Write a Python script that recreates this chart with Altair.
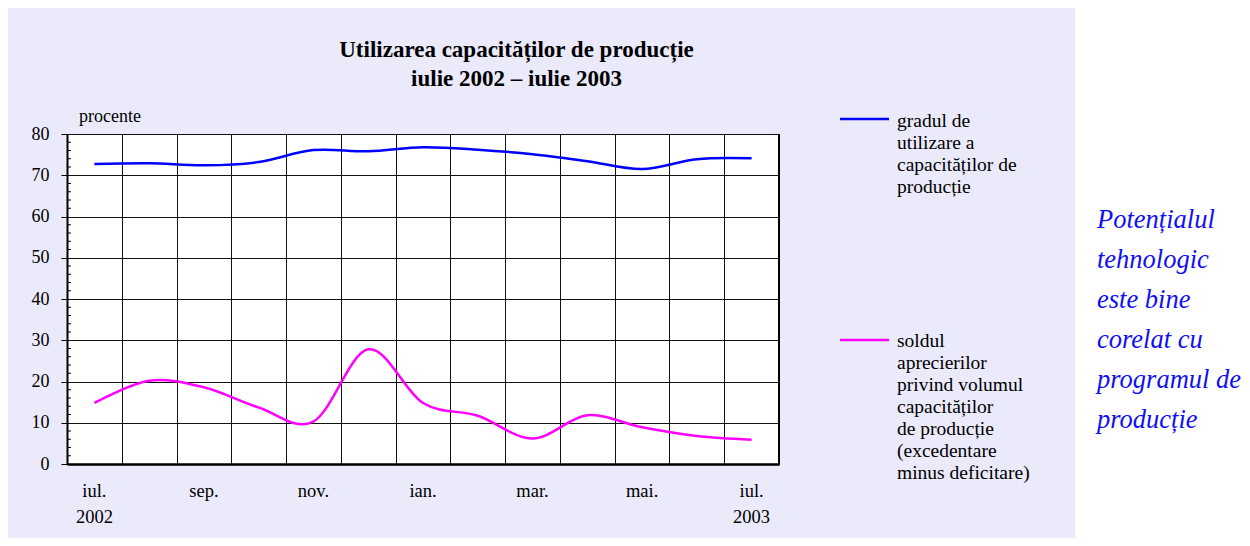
import altair as alt
import pandas as pd

# ---------------- data ----------------
months = ["iul.", "aug.", "sep.", "oct.", "nov.", "dec.", "ian.", "feb.", "mar.", "apr.", "mai.", "iun.", "iul."]
tick_labels = ["iul.\n2002", "", "sep.", "", "nov.", "", "ian.", "", "mar.", "", "mai.", "", "iul.\n2003"]
grad_utilizare = [72.7, 72.9, 72.4, 73.2, 76.1, 75.8, 76.8, 76.2, 75.1, 73.4, 71.5, 73.9, 74.1]
sold_aprecieri = [14.8, 20.2, 18.6, 13.7, 10.3, 27.8, 14.8, 11.7, 6.2, 11.8, 8.9, 6.8, 5.9]
y_major = list(range(0, 90, 10))
y_minor = [v for v in range(2, 80, 2) if v % 10]
series_names = ["gradul de utilizare", "soldul aprecierilor"]
series_colors = ["#0000FF", "#FF00FF"]
title_lines = ["Utilizarea capacităților de producție", "iulie 2002 – iulie 2003"]
y_unit = "procente"
legend_blue = ["gradul de", "utilizare a", "capacităților de", "producție"]
legend_pink = ["soldul", "aprecierilor", "privind volumul", "capacităților", "de producție",
               "(excedentare", "minus deficitare)"]
side_note = ["Potențialul", "tehnologic", "este bine", "corelat cu", "programul de", "producție"]

W, H = 712, 330
FONT = "Liberation Serif"

positions = [i + 0.5 for i in range(len(months))]
df = pd.DataFrame({
    "pos": positions * 2,
    "value": grad_utilizare + sold_aprecieri,
    "series": [series_names[0]] * len(months) + [series_names[1]] * len(months),
})
df_labels = pd.DataFrame({"pos": positions, "label": tick_labels})
df_minor = pd.DataFrame({"value": y_minor})
one = alt.Data(values=[{}])

xscale = alt.Scale(domain=[0, 13], nice=False, zero=False)
yscale = alt.Scale(domain=[0, 80], nice=False)

x_axis = alt.Axis(values=list(range(1, 13)), grid=True, labels=False, ticks=False,
                  title=None, domainColor="black", domainWidth=2.5,
                  gridColor="#111", gridWidth=1, gridOpacity=1)
y_axis = alt.Axis(values=y_major, grid=True, title=None, tickSize=6, tickColor="black",
                  tickWidth=1, labelPadding=12, labelFont=FONT, labelFontSize=18,
                  labelColor="black", domainColor="black", domainWidth=2,
                  gridColor="#111", gridWidth=1, gridOpacity=1)

# white area right of the patterned background
white_side = alt.Chart(one).mark_rect(color="white").encode(
    x=alt.value(1008), x2=alt.value(1200), y=alt.value(-140), y2=alt.value(420)
)

lines = alt.Chart(df).mark_line(interpolate="cardinal", strokeWidth=2.5).encode(
    x=alt.X("pos:Q", scale=xscale, axis=x_axis),
    y=alt.Y("value:Q", scale=yscale, axis=y_axis),
    color=alt.Color("series:N", scale=alt.Scale(domain=series_names, range=series_colors), legend=None),
)

minor_ticks = alt.Chart(df_minor).mark_rule(color="black", strokeWidth=1).encode(
    y=alt.Y("value:Q", scale=yscale, axis=y_axis), x=alt.value(0), x2=alt.value(4)
)

right_border = alt.Chart(one).mark_rule(color="black", strokeWidth=2).encode(
    x=alt.value(W), y=alt.value(0), y2=alt.value(H)
)

xlabels = alt.Chart(df_labels).mark_text(
    font=FONT, fontSize=18.5, color="black", baseline="alphabetic", align="center",
    lineBreak="\n", lineHeight=26
).encode(x=alt.X("pos:Q", scale=xscale, axis=x_axis), y=alt.value(H + 33), text="label:N")

unit_text = alt.Chart(one).mark_text(
    text=y_unit, font=FONT, fontSize=18, color="black", align="left", baseline="alphabetic"
).encode(x=alt.value(12), y=alt.value(-12))

title = alt.Chart(one).mark_text(
    text=title_lines, font=FONT, fontSize=23, fontWeight="bold", color="black",
    align="center", baseline="alphabetic", lineHeight=29
).encode(x=alt.value(449.5), y=alt.value(-77))

leg_line_blue = alt.Chart(one).mark_rule(color=series_colors[0], strokeWidth=2.5).encode(
    x=alt.value(773), x2=alt.value(822), y=alt.value(-15)
)
leg_line_pink = alt.Chart(one).mark_rule(color=series_colors[1], strokeWidth=2.5).encode(
    x=alt.value(773), x2=alt.value(822), y=alt.value(206)
)
leg_text_blue = alt.Chart(one).mark_text(
    text=legend_blue, font=FONT, fontSize=19.5, color="black", align="left",
    baseline="alphabetic", lineHeight=22
).encode(x=alt.value(830), y=alt.value(-7))
leg_text_pink = alt.Chart(one).mark_text(
    text=legend_pink, font=FONT, fontSize=19.5, color="black", align="left",
    baseline="alphabetic", lineHeight=22
).encode(x=alt.value(830), y=alt.value(213))

note = alt.Chart(one).mark_text(
    text=side_note, font=FONT, fontSize=26.5, fontStyle="italic", color="#1010F5",
    align="left", baseline="alphabetic", lineHeight=40
).encode(x=alt.value(1030), y=alt.value(94))

chart = alt.layer(
    white_side, lines, minor_ticks, right_border, xlabels, unit_text, title,
    leg_line_blue, leg_line_pink, leg_text_blue, leg_text_pink, note
).properties(
    width=W, height=H,
    autosize=alt.AutoSizeParams(type="none"),
    padding={"left": 59, "top": 126, "right": 463, "bottom": 74},
    background="#EAEAFA",
).configure_view(fill="white", stroke="black", strokeWidth=1)

chart.save("out.html", embed_options={"renderer": "svg", "actions": False})
